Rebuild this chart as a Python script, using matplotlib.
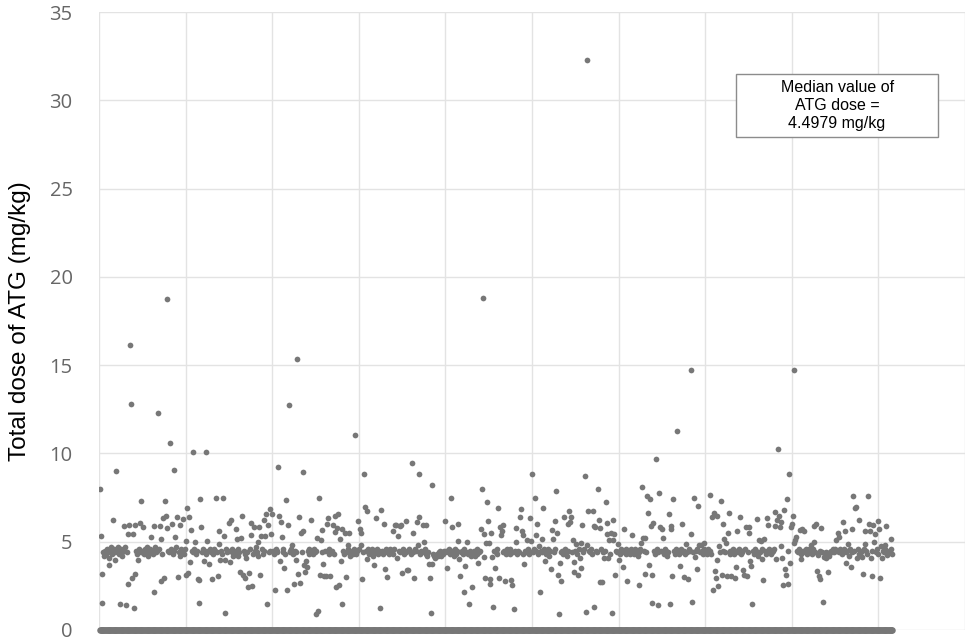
import numpy as np
import matplotlib
matplotlib.use("Agg")
import matplotlib.pyplot as plt
from matplotlib.patches import Rectangle

# Total ATG dose per patient (mg/kg), in patient order
dose_001_100 = [8.0, 5.33, 1.52, 3.16, 4.4, 4.2, 4.5, 4.3, 4.6, 4.4,
                4.1, 3.69, 4.5, 4.7, 4.3, 6.22, 4.6, 3.95, 4.4, 9.03,
                4.5, 4.7, 4.3, 1.46, 4.6, 4.4, 4.2, 4.5, 5.9, 4.7,
                1.44, 4.4, 2.63, 5.46, 5.95, 16.14, 12.82, 2.95, 5.42, 1.22,
                5.93, 3.18, 4.5, 4.3, 3.97, 4.6, 6.05, 7.33, 4.4, 4.5,
                5.86, 4.3, 4.6, 4.4, 4.7, 4.5, 4.2, 4.4, 4.6, 5.29,
                4.5, 4.3, 2.16, 5.9, 4.7, 4.4, 4.5, 12.27, 4.6, 5.9,
                2.8, 5.16, 4.3, 6.37, 2.97, 7.31, 6.43, 5.76, 18.74, 4.5,
                4.4, 10.6, 4.6, 6.03, 4.3, 9.07, 4.5, 5.29, 4.7, 6.39,
                2.99, 4.4, 4.2, 5.95, 4.6, 4.5, 6.31, 4.3, 4.6, 3.14]
dose_101_200 = [5.05, 6.93, 3.22, 6.39, 3.84, 5.69, 4.5, 10.07, 4.4, 4.6,
                5.0, 4.3, 4.5, 2.88, 2.84, 1.52, 7.4, 5.82, 4.4, 4.6,
                3.88, 4.5, 4.3, 10.07, 5.03, 4.5, 3.75, 4.6, 4.4, 4.5,
                2.9, 4.3, 4.6, 4.5, 7.48, 4.4, 3.03, 5.61, 4.88, 3.97,
                4.5, 4.3, 7.48, 5.33, 3.97, 0.95, 4.6, 4.4, 4.5, 6.08,
                3.86, 6.24, 4.6, 4.4, 4.2, 4.5, 4.3, 5.73, 5.16, 4.6,
                4.2, 4.4, 3.31, 5.2, 6.48, 3.12, 4.5, 2.93, 4.3, 4.1,
                4.4, 2.46, 3.22, 4.6, 6.05, 5.39, 2.5, 4.3, 5.86, 4.5,
                4.7, 4.4, 4.2, 5.0, 5.82, 3.12, 5.33, 4.6, 4.3, 4.5,
                6.24, 5.33, 6.58, 1.46, 5.95, 4.4, 6.88, 4.5, 5.42, 6.58]
dose_201_300 = [4.5, 4.3, 2.27, 4.6, 4.4, 4.5, 9.25, 6.46, 3.88, 6.14,
                5.29, 4.4, 4.6, 3.5, 4.3, 7.37, 2.25, 5.95, 12.74, 4.5,
                4.4, 4.6, 4.82, 4.3, 2.6, 4.5, 4.4, 3.97, 15.33, 3.18,
                6.42, 2.65, 5.48, 4.4, 5.58, 8.97, 3.69, 3.31, 3.88, 3.56,
                4.5, 4.3, 4.6, 4.4, 6.25, 4.5, 4.3, 4.6, 4.4, 0.92,
                4.5, 5.2, 1.05, 7.5, 3.12, 5.1, 4.4, 5.67, 3.73, 3.03,
                4.5, 3.03, 5.99, 6.33, 4.3, 4.6, 3.03, 4.4, 4.5, 5.95,
                4.3, 5.54, 6.48, 2.42, 5.76, 6.56, 2.52, 5.16, 3.92, 5.74,
                1.46, 4.5, 4.3, 5.48, 2.99, 4.4, 4.82, 4.6, 5.48, 4.2,
                4.4, 4.5, 4.3, 4.6, 11.05, 4.4, 4.3, 4.5, 6.2, 4.6]
dose_301_400 = [5.73, 5.52, 4.82, 2.9, 4.4, 8.82, 6.99, 4.5, 6.75, 4.01,
                4.6, 4.3, 4.5, 4.4, 4.6, 4.2, 3.67, 4.5, 4.4, 6.35,
                4.6, 4.3, 4.5, 4.4, 1.24, 6.78, 4.5, 4.3, 6.01, 3.44,
                4.6, 4.4, 2.99, 4.5, 4.3, 4.6, 4.4, 4.5, 5.58, 4.3,
                4.6, 5.95, 5.97, 4.05, 5.33, 4.5, 5.91, 4.4, 5.93, 3.22,
                4.6, 4.3, 4.5, 6.18, 4.4, 3.41, 3.41, 4.6, 4.5, 4.3,
                9.44, 5.48, 4.4, 2.97, 4.6, 4.5, 6.12, 4.82, 8.86, 6.42,
                4.3, 4.5, 4.4, 5.95, 5.01, 4.6, 5.97, 4.3, 4.2, 4.4,
                3.73, 2.97, 0.95, 8.2, 3.73, 4.3, 4.2, 4.1, 4.2, 4.3,
                4.2, 4.4, 4.3, 4.5, 4.2, 4.4, 4.3, 4.5, 6.2, 4.4]
dose_401_500 = [4.5, 3.5, 4.4, 4.6, 4.3, 7.5, 5.86, 4.5, 4.4, 4.2,
                4.6, 4.3, 4.5, 5.99, 5.05, 4.03, 3.03, 4.4, 4.5, 4.3,
                4.6, 2.18, 3.61, 4.4, 4.97, 4.3, 1.46, 4.5, 4.2, 4.4,
                2.41, 4.3, 4.5, 4.2, 4.4, 4.6, 4.3, 3.78, 4.4, 4.5,
                5.73, 7.97, 18.8, 4.16, 5.43, 2.93, 4.95, 7.27, 6.2, 4.92,
                2.61, 2.9, 5.48, 4.12, 1.31, 4.5, 3.52, 4.4, 4.6, 4.3,
                6.92, 2.93, 5.86, 5.39, 5.61, 5.97, 4.4, 4.5, 2.75, 4.3,
                4.6, 4.4, 4.5, 4.3, 4.6, 2.84, 2.54, 4.4, 1.2, 4.5,
                5.8, 4.97, 4.3, 4.5, 4.4, 6.42, 6.84, 5.58, 4.3, 5.39,
                3.73, 4.5, 4.4, 5.1, 4.6, 4.3, 4.5, 6.33, 5.05, 8.84]
dose_501_600 = [4.4, 4.6, 7.5, 5.37, 4.5, 6.01, 4.3, 4.78, 2.14, 4.5,
                5.14, 4.4, 6.92, 4.6, 3.88, 4.3, 4.5, 4.4, 4.6, 4.2,
                4.5, 3.44, 5.67, 5.14, 4.4, 6.18, 4.6, 7.9, 5.48, 3.1,
                0.9, 3.78, 2.8, 4.4, 4.5, 4.3, 6.42, 4.6, 4.4, 4.2,
                4.5, 6.01, 6.73, 6.14, 6.39, 4.4, 5.1, 3.84, 3.31, 4.5,
                4.86, 4.3, 3.09, 4.6, 4.07, 3.5, 4.95, 5.97, 4.4, 4.6,
                8.73, 1.01, 32.28, 4.82, 6.75, 4.5, 4.4, 4.6, 4.3, 6.73,
                5.9, 1.29, 5.86, 4.5, 4.4, 7.99, 6.24, 2.69, 5.75, 4.6,
                2.71, 4.4, 4.07, 4.5, 7.25, 6.08, 5.44, 4.07, 5.07, 4.3,
                5.48, 0.99, 5.1, 6.24, 5.44, 3.12, 4.5, 4.4, 4.88, 3.97]
dose_601_700 = [4.5, 4.3, 4.6, 4.4, 3.59, 5.73, 4.5, 4.3, 4.6, 2.75,
                4.4, 4.5, 4.3, 4.6, 5.39, 4.4, 4.5, 4.3, 4.6, 4.4,
                4.5, 4.2, 2.56, 4.4, 4.6, 4.95, 8.12, 5.2, 4.5, 5.2,
                3.16, 4.4, 7.6, 6.65, 3.69, 7.4, 5.9, 3.09, 1.52, 6.08,
                4.5, 4.3, 9.67, 4.6, 1.42, 4.4, 7.78, 5.86, 4.5, 5.71,
                5.2, 4.3, 4.6, 4.4, 4.5, 4.2, 4.4, 6.58, 1.48, 5.9,
                5.73, 3.03, 7.42, 4.5, 4.3, 4.6, 11.29, 4.4, 4.5, 4.3,
                3.63, 4.6, 6.01, 4.4, 2.99, 4.5, 4.3, 4.86, 4.4, 2.9,
                4.6, 4.5, 5.43, 14.72, 1.58, 4.4, 7.5, 4.16, 4.5, 3.44,
                4.6, 7.03, 4.82, 4.4, 4.82, 4.5, 4.3, 4.92, 4.6, 4.4]
dose_701_800 = [4.5, 4.3, 4.6, 4.4, 7.65, 4.5, 4.3, 6.42, 2.24, 6.65,
                3.35, 2.93, 6.46, 3.94, 2.5, 4.76, 4.4, 7.29, 3.09, 5.99,
                4.5, 5.14, 4.4, 4.92, 3.07, 5.48, 6.65, 4.3, 4.5, 3.07,
                4.4, 4.6, 4.3, 2.93, 3.56, 4.5, 5.61, 4.4, 4.6, 6.42,
                4.3, 4.5, 4.4, 3.41, 3.09, 4.6, 5.86, 3.07, 4.4, 5.48,
                5.84, 3.88, 3.63, 1.48, 4.5, 4.3, 4.6, 4.4, 4.5, 6.27,
                4.2, 5.1, 4.4, 5.05, 4.6, 4.01, 2.84, 5.14, 4.5, 4.3,
                6.33, 5.93, 4.4, 4.6, 4.5, 4.3, 4.4, 4.5, 4.6, 6.71,
                5.9, 4.01, 6.24, 10.24, 6.48, 5.86, 6.14, 4.76, 4.07, 2.56,
                6.8, 3.44, 3.12, 7.41, 2.6, 4.5, 8.84, 3.78, 5.86, 5.99]
dose_801_900 = [6.48, 4.95, 14.74, 5.1, 5.26, 4.5, 4.4, 4.6, 5.67, 4.3,
                4.01, 5.71, 4.5, 5.58, 4.4, 4.6, 4.3, 4.5, 4.4, 4.6,
                4.5, 4.82, 4.3, 4.6, 4.99, 5.9, 4.4, 5.99, 3.35, 4.25,
                3.03, 4.5, 2.9, 5.76, 4.4, 1.58, 4.16, 4.3, 4.1, 4.4,
                4.3, 3.31, 4.2, 4.4, 4.5, 4.4, 4.6, 4.5, 4.4, 4.6,
                5.1, 4.5, 5.48, 4.4, 5.26, 4.6, 4.5, 4.3, 6.14, 4.6,
                5.58, 3.78, 4.4, 4.5, 4.86, 4.2, 4.6, 3.56, 5.73, 4.4,
                7.61, 4.5, 6.9, 6.99, 4.07, 4.6, 6.24, 4.3, 4.5, 4.4,
                4.16, 3.16, 4.6, 5.63, 4.88, 4.5, 4.3, 7.61, 6.01, 5.61,
                4.07, 3.03, 4.5, 5.93, 4.97, 5.44, 4.4, 4.6, 4.3, 6.18]
dose_901_end = [5.71, 2.97, 4.73, 4.07, 4.5, 4.4, 4.82, 4.6, 5.91, 4.25,
                4.35, 4.5, 4.4, 5.16, 4.6, 4.3]

median_text = "Median value of\nATG dose =\n4.4979 mg/kg"
y_ticks = [0, 5, 10, 15, 20, 25, 30, 35]
x_grid = [0, 100, 200, 300, 400, 500, 600, 700, 800, 900, 1000]

dose = np.array(dose_001_100 + dose_101_200 + dose_201_300 + dose_301_400
                + dose_401_500 + dose_501_600 + dose_601_700 + dose_701_800
                + dose_801_900 + dose_901_end)
patient = np.arange(1, len(dose) + 1)
baseline = np.zeros(len(dose))

dot_color = "#777777"

fig = plt.figure(figsize=(9.67, 6.42), dpi=100)
ax = fig.add_axes([0.1024, 0.0187, 0.8956, 0.9626])

ax.scatter(patient, dose, s=17, color=dot_color, linewidths=0, zorder=3)
ax.scatter(patient, baseline, s=22, color=dot_color, linewidths=0,
           zorder=3, clip_on=False)

ax.set_xlim(0, 1000)
ax.set_ylim(0, 35)
ax.set_xticks(x_grid)
ax.set_xticklabels([])
ax.set_yticks(y_ticks)
ax.tick_params(axis="both", length=0)
ax.tick_params(axis="y", pad=19, labelsize=14.5, labelcolor="#666666")
for lbl in ax.get_yticklabels():
    lbl.set_family("Open Sans")
ax.grid(True, color="#e3e3e3", linewidth=1)
ax.set_axisbelow(True)
for s in ax.spines.values():
    s.set_visible(False)

ax.set_ylabel("Total dose of ATG (mg/kg)", fontsize=17.5, family="Liberation Sans",
              color="black", labelpad=13)

# median annotation box
ax.add_patch(Rectangle((0.7356, 0.7977), 0.2333, 0.102, transform=ax.transAxes,
                       facecolor="white", edgecolor="#8c8c8c", linewidth=1, zorder=4))
ax.text(0.8522, 0.8487, median_text, transform=ax.transAxes, ha="center", va="center",
        fontsize=11.5, family="Liberation Sans", linespacing=1.25, zorder=5)

fig.savefig("out.png", dpi=100)
